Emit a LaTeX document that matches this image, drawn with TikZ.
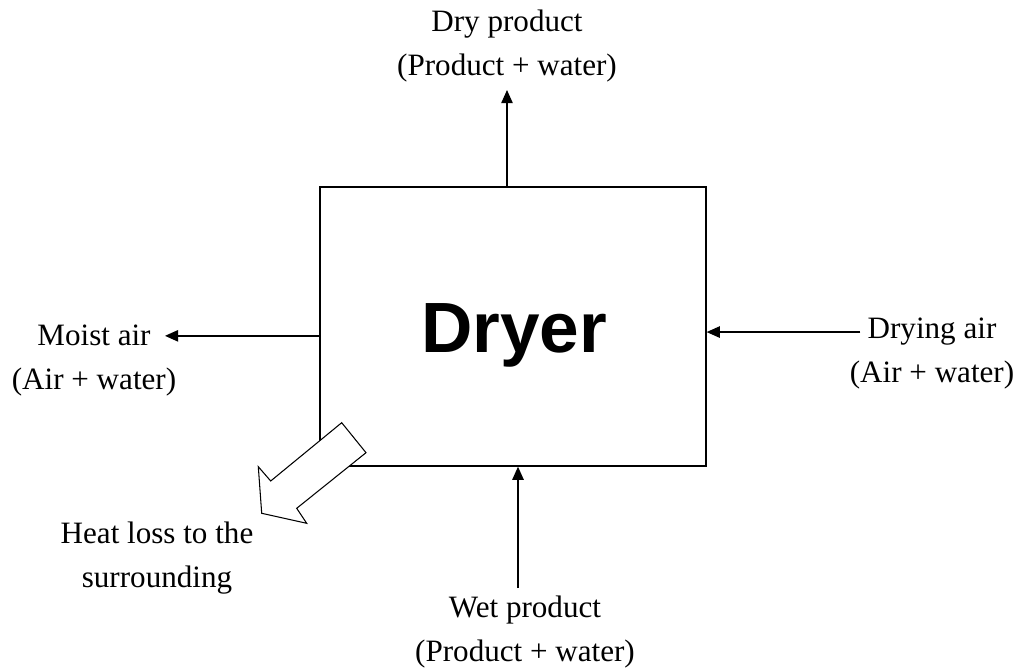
\documentclass[tikz,border=0pt]{standalone}
\usepackage{fontspec}
\setmainfont{Liberation Serif}
\newfontfamily\boxfont{Liberation Sans}
\usetikzlibrary{arrows.meta,positioning,calc}

\begin{document}
\begin{tikzpicture}[x=0.02cm, y=-0.02cm, every node/.style={font=\fontsize{17.7}{25}\selectfont}, lbl/.style={inner sep=4pt}, arr/.style={-{Triangle[length=7.5pt,width=6.5pt]},line width=0.8pt}]
		\useasboundingbox (0,0) rectangle (1021,668);
		\node[draw,line width=0.8pt,minimum width=7.72cm,minimum height=5.58cm] (dryer) at (513,326.5) {};
		\node[font=\boxfont\bfseries\fontsize{40.5}{40}\selectfont] (dryertxt) at (514,335) {Dryer};
		% labels
		\node[lbl,anchor=base] (dry) at (507,32) {Dry product};
		\node[lbl,anchor=base] (drysub) at (507,76) {(Product + water)};
		\node[lbl,anchor=base] (moist) at (94,346) {Moist air};
		\node[lbl,anchor=base] (moistsub) at (94,390) {(Air + water)};
		\node[lbl,anchor=base] (drying) at (932,339) {Drying air};
		\node[lbl,anchor=base] (dryingsub) at (932,383) {(Air + water)};
		\node[lbl,anchor=base] (wet) at (525,617) {Wet product};
		\node[lbl,anchor=base] (wetsub) at (525,661) {(Product + water)};
		\node[lbl,anchor=base] (heat) at (157,543) {Heat loss to the};
		\node[lbl,anchor=base] (heatsub) at (157,587) {surrounding};
		% streams
		\draw[arr] (drysub.south |- dryer.north) -- (drysub.south);
		\draw[arr] (dryer.west |- moist.east) -- ([xshift=4pt]moist.east);
		\draw[arr] (drying.west) -- (drying.west -| dryer.east);
		\draw[arr] ([xshift=-1.4mm]wet.north) -- ([xshift=-1.4mm]wet.north |- dryer.south);
		% heat loss
		\draw[line width=0.6pt,fill=white] (341.7,422.7) -- (366,452.7) -- (296.7,508.3) -- (306.7,523.3) -- (261.7,513.3) -- (258.3,466.7) -- (270.7,481) -- cycle;
	\end{tikzpicture}
\end{document}
